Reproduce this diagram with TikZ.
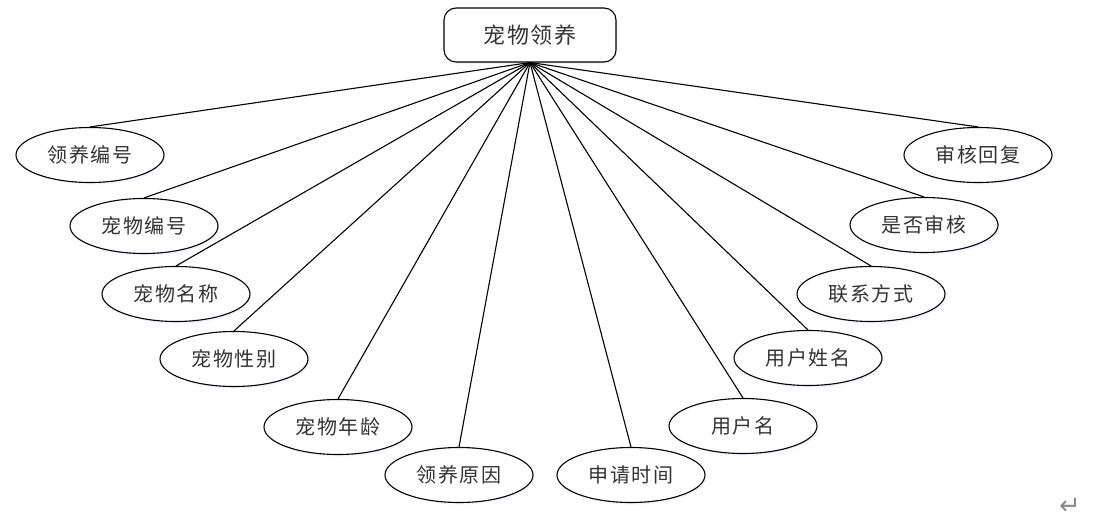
\documentclass[tikz,border=0pt]{standalone}
\usepackage{fontspec}
\newfontfamily\cjk[LetterSpace=8]{Noto Sans CJK SC}
\newfontfamily\dejavu{DejaVu Sans}
\usetikzlibrary{shapes.geometric,shadows}
\begin{document}
\begin{tikzpicture}[x=1pt,y=-1pt,
  attr/.style={ellipse,draw,line width=1.1pt,minimum width=148pt,minimum height=55pt,inner sep=0pt,
    fill=white,font=\cjk\fontsize{20}{24}\selectfont,text=black!80,
    drop shadow={opacity=0.12,fill=blue!40,shadow xshift=1.5pt,shadow yshift=-2pt}},
  ent/.style={rectangle,rounded corners=12pt,draw,line width=1.1pt,minimum width=172pt,minimum height=54pt,
    fill=white,font=\cjk\fontsize{22}{26}\selectfont,text=black!80,
    drop shadow={opacity=0.12,fill=blue!40,shadow xshift=1.5pt,shadow yshift=-2pt}},
  link/.style={line width=1.1pt}]
\useasboundingbox (0,0) rectangle (1094,521);
\node[ent] (e) at (530,35) {宠物领养};
\node[attr] (a1) at (90,155) {领养编号};
\node[attr] (a2) at (144,226) {宠物编号};
\node[attr] (a3) at (176,294) {宠物名称};
\node[attr] (a4) at (234,359) {宠物性别};
\node[attr] (a5) at (338,427) {宠物年龄};
\node[attr] (a6) at (459,475) {领养原因};
\node[attr] (a7) at (631,475) {申请时间};
\node[attr] (a8) at (743,426) {用户名};
\node[attr] (a9) at (808,358) {用户姓名};
\node[attr] (a10) at (871,294) {联系方式};
\node[attr] (a11) at (924,225) {是否审核};
\node[attr] (a12) at (978,155) {审核回复};
\foreach \i in {1,...,12}{\draw[link] (e.south) -- (a\i.north);}
\node[font=\dejavu\fontsize{26}{28}\selectfont,text=black!45] (pm) at (1070,506) {↵};
\end{tikzpicture}
\end{document}
